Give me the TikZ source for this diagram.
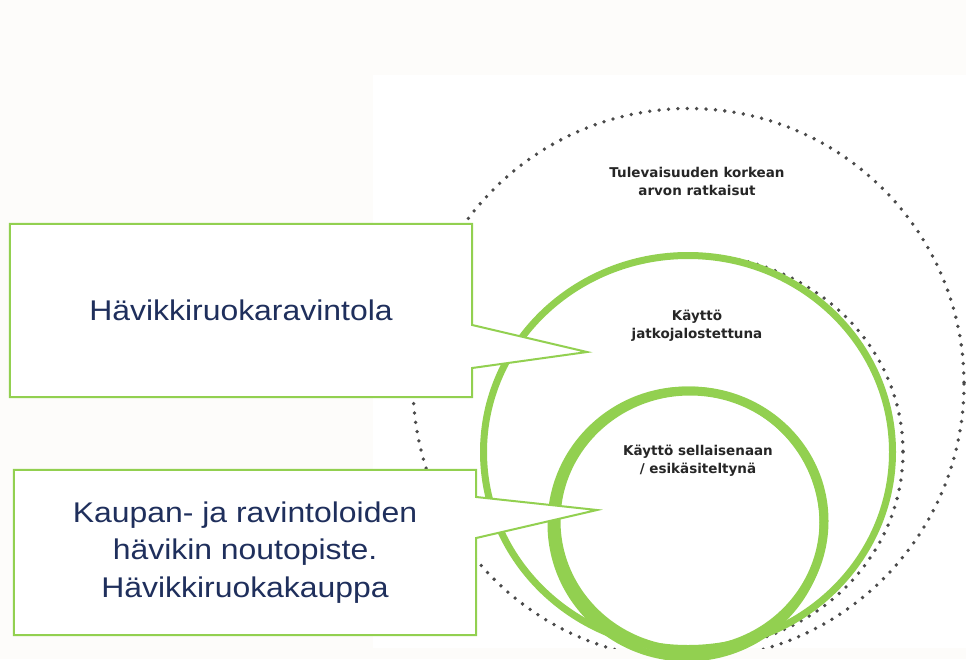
\documentclass[tikz,border=0pt]{standalone}
\usepackage{fontspec}
\setmainfont{Liberation Sans}
\newfontfamily\boxfont[FakeStretch=1.12]{Liberation Sans}
\newfontfamily\ringfont{DejaVu Sans}
\definecolor{leafgreen}{HTML}{92D050}
\definecolor{navytext}{HTML}{1F2F5C}
\definecolor{dotgrey}{HTML}{4A4A4A}
\definecolor{cream}{HTML}{FDFCFA}
\begin{document}
\begin{tikzpicture}
  [x=1pt,y=-1pt,
   ring/.style={draw=leafgreen},
   dotring/.style={draw=dotgrey,line width=3.8pt,line cap=round,dash pattern=on 0pt off 9.4pt},
   callbox/.style={fill=white,minimum width=462pt,inner sep=0pt,text=navytext,align=center,
     font={\boxfont\fontsize{28.5}{37.5}\selectfont}},
   boxline/.style={draw=leafgreen,line width=2pt},
   lbl/.style={anchor=base,align=center,text=black!85,
     font={\ringfont\bfseries\fontsize{13.5}{17.5}\selectfont}}]
\fill[cream] (0,0) rectangle (966,659);
\useasboundingbox (0,0) rectangle (966,659);
\fill[white] (373,75) rectangle (966,648);

% dotted levels
\begin{scope}
  \clip (373,75) rectangle (966,648);
  \draw[dotring] (688.5,384) circle [radius=275.5];
  \draw[dotring] (693,452) ellipse [x radius=210, y radius=197];
\end{scope}

% green rings
\draw[ring,line width=7pt] (688,452) ellipse [x radius=204.5, y radius=196.5];
\draw[ring,line width=9pt] (690,521) ellipse [x radius=134, y radius=130];
\draw[ring,line width=7pt] (687,524) ellipse [x radius=136, y radius=134];

% last line baselines
\node[lbl] (tulev) at (697,195) {Tulevaisuuden korkean\\arvon ratkaisut};
\node[lbl] (jatko) at (697,338) {Käyttö\\jatkojalostettuna};
\node[lbl] (sell) at (698,473) {Käyttö sellaisenaan\\/ esikäsiteltynä};

% callouts
\node[callbox,minimum height=173pt] (hvr) at (241,310.5) {Hävikkiruokaravintola};
\node[callbox,minimum height=165pt] (nouto) at (245,552.5)
  {Kaupan- ja ravintoloiden\\hävikin noutopiste.\\Hävikkiruokakauppa};
\coordinate (tip1) at (587,352);
\coordinate (tip2) at (597,510);
\foreach \bx/\tp/\ya/\yb in {hvr/tip1/-14.5/-57.5,nouto/tip2/55.5/14.5} {
  \fill[white] ([yshift=\ya pt]\bx.east) -- (\tp) -- ([yshift=\yb pt]\bx.east) -- cycle;
  \draw[boxline] (\bx.north west) -- (\bx.north east) -- ([yshift=\ya pt]\bx.east)
    -- (\tp) -- ([yshift=\yb pt]\bx.east) -- (\bx.south east) -- (\bx.south west) -- cycle;
}
\end{tikzpicture}
\end{document}
